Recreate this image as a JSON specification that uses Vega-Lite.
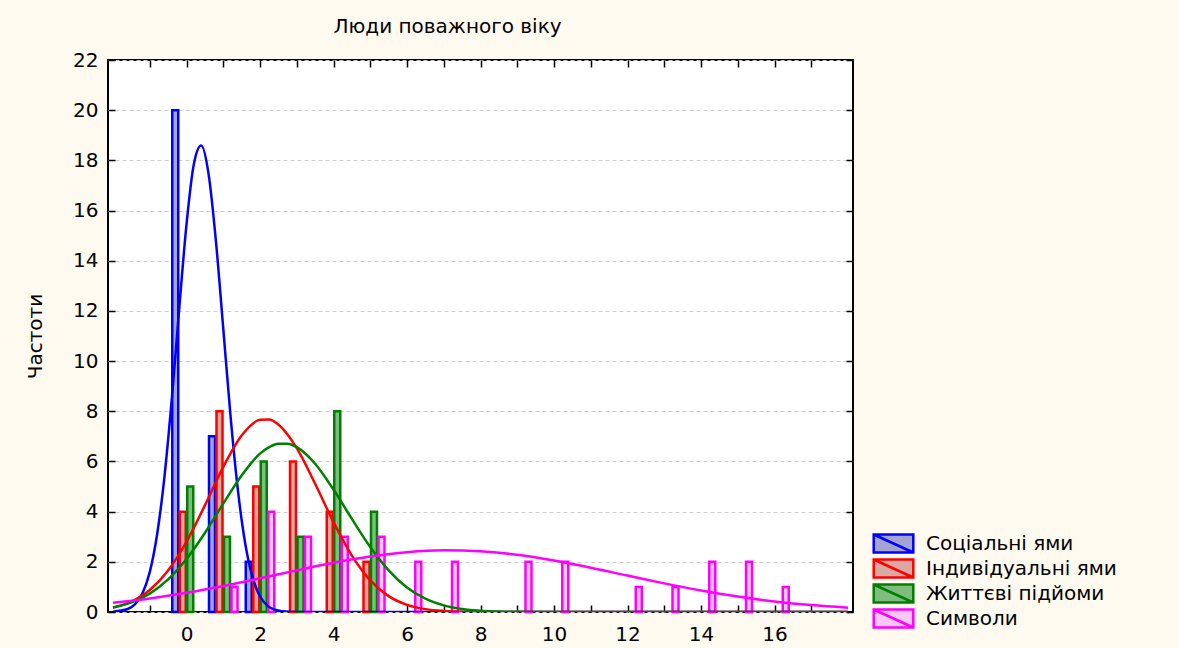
{
  "$schema": "https://vega.github.io/schema/vega-lite/v6.json",
  "autosize": {"type": "none"},
  "padding": {"left": 108, "top": 60, "right": 326, "bottom": 36},
  "width": 745,
  "height": 552,
  "background": "#fefaf0",
  "title": {"text": "Люди поважного віку", "fontSize": 20, "font": "DejaVu Sans", "fontWeight": "normal", "color": "black", "offset": 13, "dx": -33},
  "config": {
    "view": {"stroke": "black", "strokeWidth": 2, "fill": "white"},
    "axis": {"labelFont": "DejaVu Sans", "labelFontSize": 20, "labelColor": "black", "titleFont": "DejaVu Sans", "titleFontSize": 20, "titleFontWeight": "normal", "titleColor": "black", "tickColor": "black", "tickWidth": 1.5, "domain": false},
    "legend": {"orient": "none", "legendX": 775, "legendY": 473, "title": null, "symbolType": "M-2.2,-1H2.2V1H-2.2Z M-2.2,-1L2.2,1", "symbolSize": 324, "symbolStrokeWidth": 2.5, "labelFontSize": 20, "labelFont": "DejaVu Sans", "labelColor": "black", "labelOffset": 22, "labelLimit": 400, "rowPadding": -8}
  },
  "datasets": {
    "bars": [
      {"series": "Соціальні ями", "x": 0, "n": 20},
      {"series": "Соціальні ями", "x": 1, "n": 7},
      {"series": "Соціальні ями", "x": 2, "n": 2},
      {"series": "Індивідуальні ями", "x": 0, "n": 4},
      {"series": "Індивідуальні ями", "x": 1, "n": 8},
      {"series": "Індивідуальні ями", "x": 2, "n": 5},
      {"series": "Індивідуальні ями", "x": 3, "n": 6},
      {"series": "Індивідуальні ями", "x": 4, "n": 4},
      {"series": "Індивідуальні ями", "x": 5, "n": 2},
      {"series": "Життєві підйоми", "x": 0, "n": 5},
      {"series": "Життєві підйоми", "x": 1, "n": 3},
      {"series": "Життєві підйоми", "x": 2, "n": 6},
      {"series": "Життєві підйоми", "x": 3, "n": 3},
      {"series": "Життєві підйоми", "x": 4, "n": 8},
      {"series": "Життєві підйоми", "x": 5, "n": 4},
      {"series": "Символи", "x": 1, "n": 1},
      {"series": "Символи", "x": 2, "n": 4},
      {"series": "Символи", "x": 3, "n": 3},
      {"series": "Символи", "x": 4, "n": 3},
      {"series": "Символи", "x": 5, "n": 3},
      {"series": "Символи", "x": 6, "n": 2},
      {"series": "Символи", "x": 7, "n": 2},
      {"series": "Символи", "x": 9, "n": 2},
      {"series": "Символи", "x": 10, "n": 2},
      {"series": "Символи", "x": 12, "n": 1},
      {"series": "Символи", "x": 13, "n": 1},
      {"series": "Символи", "x": 14, "n": 2},
      {"series": "Символи", "x": 15, "n": 2},
      {"series": "Символи", "x": 16, "n": 1}
    ],
    "curves": [
      {"series": "Соціальні ями", "x": -2, "y": 0.012},
      {"series": "Соціальні ями", "x": -1.6, "y": 0.118},
      {"series": "Соціальні ями", "x": -1.4, "y": 0.311},
      {"series": "Соціальні ями", "x": -1.2, "y": 0.741},
      {"series": "Соціальні ями", "x": -1.0, "y": 1.59},
      {"series": "Соціальні ями", "x": -0.8, "y": 3.09},
      {"series": "Соціальні ями", "x": -0.6, "y": 5.39},
      {"series": "Соціальні ями", "x": -0.4, "y": 8.49},
      {"series": "Соціальні ями", "x": -0.2, "y": 12.06},
      {"series": "Соціальні ями", "x": 0, "y": 15.45},
      {"series": "Соціальні ями", "x": 0.2, "y": 17.85},
      {"series": "Соціальні ями", "x": 0.4, "y": 18.59},
      {"series": "Соціальні ями", "x": 0.6, "y": 17.46},
      {"series": "Соціальні ями", "x": 0.8, "y": 14.79},
      {"series": "Соціальні ями", "x": 1.0, "y": 11.3},
      {"series": "Соціальні ями", "x": 1.2, "y": 7.78},
      {"series": "Соціальні ями", "x": 1.4, "y": 4.84},
      {"series": "Соціальні ями", "x": 1.6, "y": 2.71},
      {"series": "Соціальні ями", "x": 1.8, "y": 1.37},
      {"series": "Соціальні ями", "x": 2.0, "y": 0.62},
      {"series": "Соціальні ями", "x": 2.2, "y": 0.256},
      {"series": "Соціальні ями", "x": 2.4, "y": 0.095},
      {"series": "Соціальні ями", "x": 2.8, "y": 0.01},
      {"series": "Соціальні ями", "x": 3.5, "y": 0},
      {"series": "Соціальні ями", "x": 18, "y": 0},
      {"series": "Індивідуальні ями", "x": -2, "y": 0.175},
      {"series": "Індивідуальні ями", "x": -1.5, "y": 0.414},
      {"series": "Індивідуальні ями", "x": -1, "y": 0.874},
      {"series": "Індивідуальні ями", "x": -0.5, "y": 1.655},
      {"series": "Індивідуальні ями", "x": 0, "y": 2.8},
      {"series": "Індивідуальні ями", "x": 0.5, "y": 4.25},
      {"series": "Індивідуальні ями", "x": 1, "y": 5.78},
      {"series": "Індивідуальні ями", "x": 1.5, "y": 7.03},
      {"series": "Індивідуальні ями", "x": 1.75, "y": 7.44},
      {"series": "Індивідуальні ями", "x": 2, "y": 7.66},
      {"series": "Індивідуальні ями", "x": 2.25, "y": 7.67},
      {"series": "Індивідуальні ями", "x": 2.5, "y": 7.47},
      {"series": "Індивідуальні ями", "x": 3, "y": 6.53},
      {"series": "Індивідуальні ями", "x": 3.5, "y": 5.11},
      {"series": "Індивідуальні ями", "x": 4, "y": 3.58},
      {"series": "Індивідуальні ями", "x": 4.5, "y": 2.25},
      {"series": "Індивідуальні ями", "x": 5, "y": 1.26},
      {"series": "Індивідуальні ями", "x": 5.5, "y": 0.634},
      {"series": "Індивідуальні ями", "x": 6, "y": 0.286},
      {"series": "Індивідуальні ями", "x": 6.5, "y": 0.115},
      {"series": "Індивідуальні ями", "x": 7, "y": 0.042},
      {"series": "Індивідуальні ями", "x": 7.5, "y": 0.013},
      {"series": "Індивідуальні ями", "x": 8, "y": 0.004},
      {"series": "Індивідуальні ями", "x": 9, "y": 0},
      {"series": "Індивідуальні ями", "x": 18, "y": 0},
      {"series": "Життєві підйоми", "x": -2, "y": 0.182},
      {"series": "Життєві підйоми", "x": -1.5, "y": 0.382},
      {"series": "Життєві підйоми", "x": -1, "y": 0.734},
      {"series": "Життєві підйоми", "x": -0.5, "y": 1.3},
      {"series": "Життєві підйоми", "x": 0, "y": 2.11},
      {"series": "Життєві підйоми", "x": 0.5, "y": 3.15},
      {"series": "Життєві підйоми", "x": 1, "y": 4.32},
      {"series": "Життєві підйоми", "x": 1.5, "y": 5.44},
      {"series": "Життєві підйоми", "x": 2, "y": 6.31},
      {"series": "Життєві підйоми", "x": 2.25, "y": 6.57},
      {"series": "Життєві підйоми", "x": 2.5, "y": 6.71},
      {"series": "Життєві підйоми", "x": 2.75, "y": 6.71},
      {"series": "Життєві підйоми", "x": 3, "y": 6.57},
      {"series": "Життєві підйоми", "x": 3.5, "y": 5.91},
      {"series": "Життєві підйоми", "x": 4, "y": 4.88},
      {"series": "Життєві підйоми", "x": 4.5, "y": 3.71},
      {"series": "Життєві підйоми", "x": 5, "y": 2.59},
      {"series": "Життєві підйоми", "x": 5.5, "y": 1.66},
      {"series": "Життєві підйоми", "x": 6, "y": 0.977},
      {"series": "Життєві підйоми", "x": 6.5, "y": 0.529},
      {"series": "Життєві підйоми", "x": 7, "y": 0.263},
      {"series": "Життєві підйоми", "x": 7.5, "y": 0.12},
      {"series": "Життєві підйоми", "x": 8, "y": 0.051},
      {"series": "Життєві підйоми", "x": 8.5, "y": 0.02},
      {"series": "Життєві підйоми", "x": 9, "y": 0.007},
      {"series": "Життєві підйоми", "x": 10, "y": 0.001},
      {"series": "Життєві підйоми", "x": 18, "y": 0},
      {"series": "Символи", "x": -2, "y": 0.366},
      {"series": "Символи", "x": -1, "y": 0.542},
      {"series": "Символи", "x": 0, "y": 0.767},
      {"series": "Символи", "x": 1, "y": 1.038},
      {"series": "Символи", "x": 2, "y": 1.342},
      {"series": "Символи", "x": 3, "y": 1.659},
      {"series": "Символи", "x": 4, "y": 1.959},
      {"series": "Символи", "x": 5, "y": 2.211},
      {"series": "Символи", "x": 6, "y": 2.385},
      {"series": "Символи", "x": 7, "y": 2.458},
      {"series": "Символи", "x": 8, "y": 2.422},
      {"series": "Символи", "x": 9, "y": 2.281},
      {"series": "Символи", "x": 10, "y": 2.052},
      {"series": "Символи", "x": 11, "y": 1.766},
      {"series": "Символи", "x": 12, "y": 1.451},
      {"series": "Символи", "x": 13, "y": 1.14},
      {"series": "Символи", "x": 14, "y": 0.856},
      {"series": "Символи", "x": 15, "y": 0.614},
      {"series": "Символи", "x": 16, "y": 0.421},
      {"series": "Символи", "x": 17, "y": 0.276},
      {"series": "Символи", "x": 18, "y": 0.173}
    ]
  },
  "resolve": {"axis": {"x": "independent", "y": "independent"}},
  "layer": [
    {
      "data": {"name": "bars"},
      "transform": [{"filter": "datum.series === 'Соціальні ями'"}],
      "mark": {"type": "bar", "width": 6, "xOffset": -11.25, "strokeWidth": 2.5},
      "encoding": {
        "x": {"field": "x", "type": "quantitative", "scale": {"domain": [-2, 18], "nice": false, "zero": false},
              "axis": {"orient": "bottom", "values": [-1, 0, 1, 2, 3, 4, 5, 6, 7, 8, 9, 10, 11, 12, 13, 14, 15, 16, 17], "labelExpr": "datum.value % 2 === 0 ? datum.label : ''", "tickSize": -7, "labelPadding": 19, "grid": false, "title": null}},
        "y": {"field": "n", "type": "quantitative", "scale": {"domain": [0, 22], "nice": false},
              "axis": {"orient": "left", "values": [0, 2, 4, 6, 8, 10, 12, 14, 16, 18, 20, 22], "tickSize": -7, "labelPadding": 17, "grid": true, "gridDash": [4, 3], "gridColor": "#cfcfcf", "gridWidth": 1, "title": "Частоти", "titlePadding": 27}},
        "fill": {"field": "series", "type": "nominal",
                 "scale": {"domain": ["Соціальні ями", "Індивідуальні ями", "Життєві підйоми", "Символи"], "range": ["#a4a4d0", "#d9a9a3", "#7fbd7f", "#fcc8fc"]}},
        "stroke": {"field": "series", "type": "nominal",
                   "scale": {"domain": ["Соціальні ями", "Індивідуальні ями", "Життєві підйоми", "Символи"], "range": ["#0000ff", "#ff0000", "#008000", "#ff00ff"]}}
      }
    },
    {
      "data": {"name": "bars"},
      "transform": [{"filter": "datum.series === 'Індивідуальні ями'"}],
      "mark": {"type": "bar", "width": 6, "xOffset": -3.75, "strokeWidth": 2.5},
      "encoding": {
        "x": {"field": "x", "type": "quantitative", "axis": null},
        "y": {"field": "n", "type": "quantitative", "axis": null},
        "fill": {"field": "series", "type": "nominal"},
        "stroke": {"field": "series", "type": "nominal"}
      }
    },
    {
      "data": {"name": "bars"},
      "transform": [{"filter": "datum.series === 'Життєві підйоми'"}],
      "mark": {"type": "bar", "width": 6, "xOffset": 3.75, "strokeWidth": 2.5},
      "encoding": {
        "x": {"field": "x", "type": "quantitative", "axis": null},
        "y": {"field": "n", "type": "quantitative", "axis": null},
        "fill": {"field": "series", "type": "nominal"},
        "stroke": {"field": "series", "type": "nominal"}
      }
    },
    {
      "data": {"name": "bars"},
      "transform": [{"filter": "datum.series === 'Символи'"}],
      "mark": {"type": "bar", "width": 6, "xOffset": 11.25, "strokeWidth": 2.5},
      "encoding": {
        "x": {"field": "x", "type": "quantitative", "axis": null},
        "y": {"field": "n", "type": "quantitative", "axis": null},
        "fill": {"field": "series", "type": "nominal"},
        "stroke": {"field": "series", "type": "nominal"}
      }
    },
    {
      "data": {"name": "curves"},
      "mark": {"type": "line", "strokeWidth": 2.5, "interpolate": "monotone", "clip": true},
      "encoding": {
        "x": {"field": "x", "type": "quantitative",
              "axis": {"orient": "top", "values": [-1, 0, 1, 2, 3, 4, 5, 6, 7, 8, 9, 10, 11, 12, 13, 14, 15, 16, 17], "labels": false, "tickSize": -7, "grid": false, "title": null}},
        "y": {"field": "y", "type": "quantitative",
              "axis": {"orient": "right", "values": [0, 2, 4, 6, 8, 10, 12, 14, 16, 18, 20, 22], "labels": false, "tickSize": -7, "grid": false, "title": null}},
        "stroke": {"field": "series", "type": "nominal"},
        "detail": {"field": "series", "type": "nominal"}
      }
    }
  ]
}
